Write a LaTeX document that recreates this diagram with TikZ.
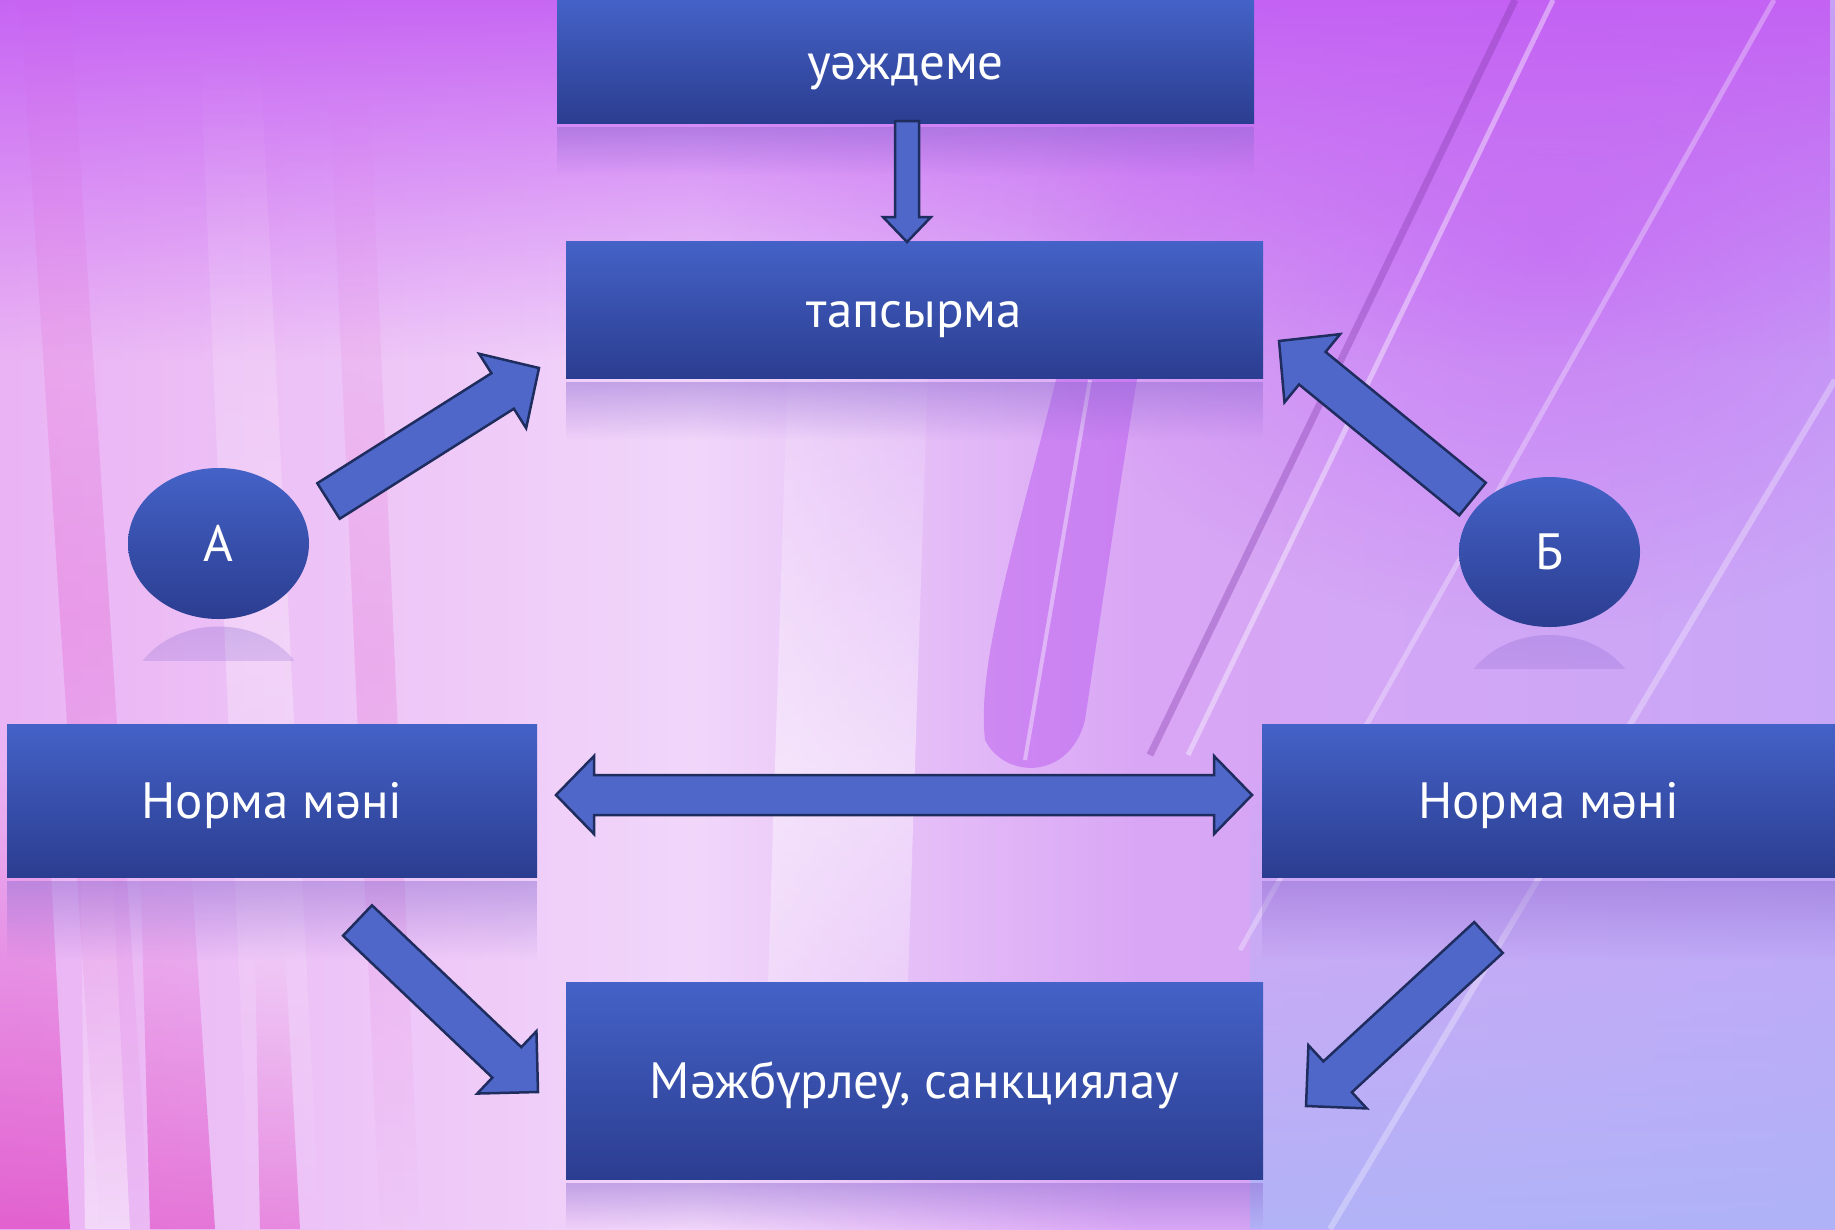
\documentclass[tikz,border=0pt]{standalone}
\usepackage{fontspec}
\setmainfont{PT Sans}
\usetikzlibrary{calc,fadings,shapes.geometric}

\definecolor{boxtop}{HTML}{4462C7}
\definecolor{boxbot}{HTML}{2B3D90}
\definecolor{arrfill}{HTML}{4E67C9}
\definecolor{arrline}{HTML}{1F2C5E}
\definecolor{bgA}{HTML}{E397EC}
\definecolor{bgB}{HTML}{E9AEF3}
\definecolor{bgC}{HTML}{F1D6FA}
\definecolor{bgD}{HTML}{D9A6F5}
\definecolor{bgE}{HTML}{C8A6F7}
\definecolor{bgF}{HTML}{B7B2FA}
\definecolor{bgpurple}{HTML}{C35CF3}
\definecolor{bgmag}{HTML}{E046C4}
\definecolor{bgblade}{HTML}{B650EE}
\definecolor{bgblue}{HTML}{A9B6F8}
\definecolor{reflc}{HTML}{8A68CF}

\pgfdeclarehorizontalshading{bgh}{100bp}{color(0bp)=(bgA); color(22bp)=(bgB); color(44bp)=(bgC); color(56bp)=(bgD); color(75bp)=(bgE); color(100bp)=(bgF)}

\tikzfading[name=fadedown, top color=transparent!0, bottom color=transparent!100]
\tikzfading[name=fadeup, top color=transparent!100, bottom color=transparent!0]
\tikzfading[name=fademid, top color=transparent!100, bottom color=transparent!100, middle color=transparent!0]
\tikzfading[name=softcirc, inner color=transparent!0, outer color=transparent!100]

\newcommand\boxfont{\fontsize{51}{60}\selectfont}
\newcommand\blockarrow[5]{%
  \path ($(#2)!#5!(#1)$) coordinate (hb);
  \draw[barrow] ($(#1)!#3!90:(#2)$) -- ($(hb)!#3!-90:(#1)$) -- ($(hb)!#4!-90:(#1)$) -- (#2)
     -- ($(hb)!#4!90:(#1)$) -- ($(hb)!#3!90:(#1)$) -- ($(#1)!#3!-90:(#2)$) -- cycle;
}

\tikzset{
  box/.style={rectangle, inner sep=0pt, top color=boxtop, bottom color=boxbot, text=white,
    font=\boxfont, text height=35pt, text depth=0pt},
  oval/.style={ellipse, inner sep=0pt, top color=boxtop, bottom color=boxbot, text=white,
    font=\boxfont, text height=35pt, text depth=0pt},
  barrow/.style={fill=arrfill, draw=arrline, line width=2.5pt, line join=miter},
  refl/.style={fill=reflc, opacity=0.45, path fading=fadedown},
}

\begin{document}
\begin{tikzpicture}[x=1pt,y=-1pt]
% ---------- background ----------
\fill[shading=bgh] (0,0) rectangle (1835,1229);
\useasboundingbox (0,0) rectangle (1835,1229);
\fill[bgpurple, opacity=0.9, path fading=fadedown] (0,0) rectangle (1835,360);
\fill[bgpurple, opacity=0.55, path fading=softcirc] (1550,250) ellipse [x radius=520, y radius=380];
\fill[bgblue, opacity=0.8, path fading=fadeup] (1250,780) rectangle (1835,1229);
% left streaks
\fill[bgmag, opacity=0.75, path fading=fadeup] (0,1229) -- (70,1229) -- (45,760) -- (0,760) -- cycle;
\fill[bgmag, opacity=0.6, path fading=fadeup] (150,1229) -- (215,1229) -- (190,850) -- (140,850) -- cycle;
\fill[bgmag, opacity=0.45, path fading=fadeup] (260,1229) -- (300,1229) -- (285,950) -- (255,950) -- cycle;
\fill[white, opacity=0.45, path fading=fadeup] (85,1229) -- (130,1229) -- (110,820) -- (80,820) -- cycle;
\fill[bgmag, opacity=0.25, path fading=fademid] (20,0) -- (70,0) -- (150,1229) -- (100,1229) -- cycle;
\fill[white, opacity=0.3, path fading=fademid] (200,50) -- (260,50) -- (320,1229) -- (250,1229) -- cycle;
\fill[bgmag, opacity=0.2, path fading=fademid] (330,100) -- (370,100) -- (420,1229) -- (380,1229) -- cycle;
% centre light column
\fill[white, opacity=0.45, path fading=fademid] (790,300) -- (930,300) -- (900,1229) -- (760,1229) -- cycle;
% purple blade
\fill[bgblade, opacity=0.45] (1075,300) .. controls (1030,500) and (975,650) .. (985,740)
   .. controls (1005,780) and (1070,780) .. (1085,720) .. controls (1100,620) and (1120,480) .. (1150,300) -- cycle;
\draw[white, opacity=0.4, line width=4pt] (1090,380) -- (1025,760);
% diagonal lines right
\draw[bgblade!70!black, opacity=0.35, line width=7pt] (1515,0) -- (1150,755);
\draw[white, opacity=0.4, line width=5pt] (1553,0) -- (1188,755);
\draw[white, opacity=0.3, line width=5pt] (1774,0) -- (1240,950);
\draw[white, opacity=0.3, line width=6pt] (1835,380) -- (1330,1229);

% ---------- reflections ----------
\fill[refl] (557,127) rectangle (1254,175);
\fill[refl] (566,382) rectangle (1263,440);
\fill[refl] (7,881) rectangle (537,960);
\fill[refl] (1262,881) rectangle (1835,960);
\fill[refl] (566,1183) rectangle (1263,1229);
\begin{scope}
  \clip (120,624) rectangle (320,660);
  \fill[reflc, opacity=0.3, path fading=fadedown] (218.5,702) ellipse [x radius=90.5, y radius=75.5];
\end{scope}
\begin{scope}
  \clip (1450,632) rectangle (1650,668);
  \fill[reflc, opacity=0.3, path fading=fadedown] (1549.5,710) ellipse [x radius=90.5, y radius=75];
\end{scope}

% ---------- nodes ----------
\node[box, minimum width=697pt, minimum height=123pt] (motiv) at (905.5,61.5) {уәждеме};
\node[box, minimum width=697pt, minimum height=137pt] (task) at (914.5,309.5) {тапсырма};
\node[oval, minimum width=181pt, minimum height=151pt] (A) at (218.5,543.5) {А};
\node[oval, minimum width=181pt, minimum height=150pt] (B) at (1549.5,552) {Б};
\node[box, minimum width=530pt, minimum height=153pt] (normL) at (272,800.5) {Норма мәні};
\node[box, minimum width=573pt, minimum height=153pt] (normR) at (1548.5,800.5) {Норма мәні};
\node[box, minimum width=697pt, minimum height=197pt] (sanc) at (914.5,1080.5) {Мәжбүрлеу, санкциялау};

% ---------- arrow end points ----------
\coordinate (dT) at (907,121);
\coordinate (dH) at (907,242);
\coordinate (aT) at (328.5,501);
\coordinate (aH) at (539,368);
\coordinate (bT) at (1472.5,499);
\coordinate (bH) at (1279,341);
\coordinate (lT) at (357.5,920.5);
\coordinate (lH) at (538,1092);
\coordinate (rT) at (1488.5,937.5);
\coordinate (rH) at (1306,1106);
\coordinate (dL) at (556,795);
\coordinate (dR) at (1252,795);

% ---------- arrows ----------
\blockarrow{dT}{dH}{12pt}{24pt}{25pt}
\blockarrow{aT}{aH}{21pt}{44pt}{43pt}
\blockarrow{bT}{bH}{21pt}{44pt}{43pt}
\blockarrow{lT}{lH}{21pt}{43pt}{43pt}
\blockarrow{rT}{rH}{21pt}{43pt}{43pt}
\draw[barrow] (dL) -- ($(dL)+(38,-39)$) -- ($(dL)+(38,-20)$) -- ($(dR)+(-38,-20)$) -- ($(dR)+(-38,-39)$)
   -- (dR) -- ($(dR)+(-38,39)$) -- ($(dR)+(-38,20)$) -- ($(dL)+(38,20)$) -- ($(dL)+(38,39)$) -- cycle;
\end{tikzpicture}
\end{document}
